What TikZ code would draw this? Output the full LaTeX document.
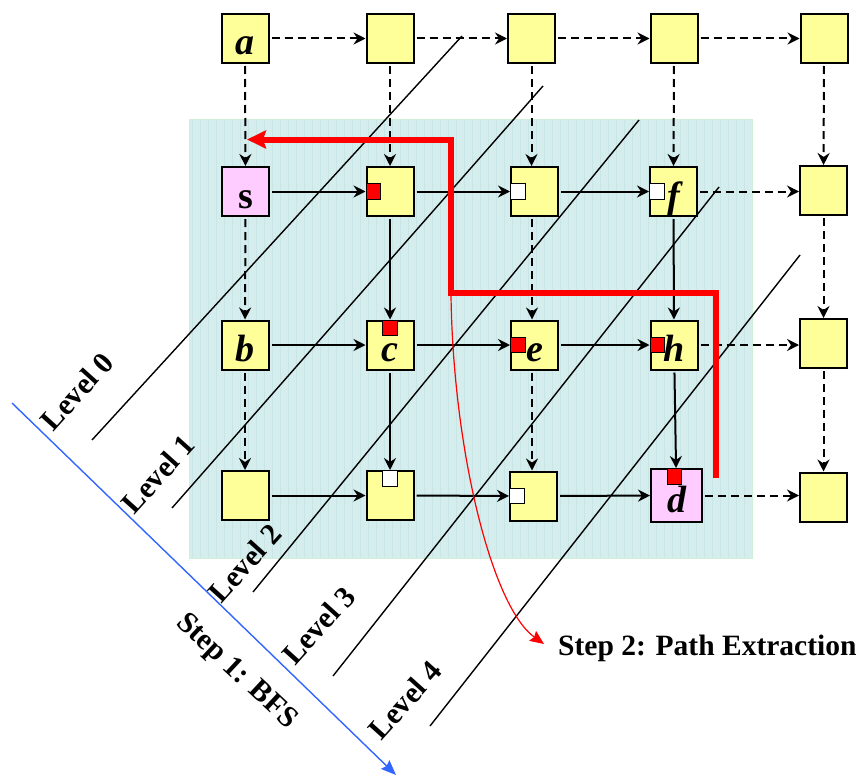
\documentclass[tikz,border=0pt]{standalone}
\usepackage{fontspec}
\setmainfont{Liberation Serif}
\usetikzlibrary{arrows.meta}
\definecolor{nodeyellow}{RGB}{255,255,153}
\definecolor{nodepink}{RGB}{255,204,255}
\definecolor{bgcol}{RGB}{214,237,237}
\definecolor{gridcol}{RGB}{200,230,231}
\definecolor{bgborder}{RGB}{205,240,215}
\definecolor{bfsblue}{RGB}{51,102,255}
\begin{document}
\begin{tikzpicture}[x=1pt,y=-1pt,
  box/.style={draw=black, line width=2pt, fill=nodeyellow, minimum width=47pt, minimum height=49pt,
    inner sep=0pt, text height=33pt, text depth=0pt,
    font=\fontsize{38}{38}\selectfont\bfseries\itshape},
  pinkbox/.style={box, fill=nodepink},
  bigbox/.style={pinkbox, minimum width=51pt, minimum height=53pt},
  mk/.style={draw=black, line width=1.3pt, minimum width=14.5pt, minimum height=15.5pt, inner sep=0pt},
  redmk/.style={mk, fill=red},
  whitemk/.style={mk, fill=white},
  edge/.style={draw=black, line width=2pt, -{Stealth[length=12pt,width=12pt,inset=4pt]}, shorten <=2pt},
  dedge/.style={edge, dash pattern=on 8pt off 5pt},
  diag/.style={draw=black, line width=1.4pt},
  lvl/.style={font=\fontsize{30}{30}\selectfont\bfseries, inner sep=0pt},
]
\useasboundingbox (0,0) rectangle (861,776);

% background panel
\fill[bgcol] (189,119) rectangle (752,558);
\begin{scope}
\clip (189,119) rectangle (752,558);
\draw[gridcol, line width=0.7pt, step=8] (184,112) grid (760,560);
\end{scope}
\draw[bgborder, line width=1pt] (189,119) rectangle (752,558);

% level separator lines
\draw[diag] (462,36) -- (92,440);
\draw[diag] (543,86) -- (172,508);
\draw[diag] (639,120) -- (253,592);
\draw[diag] (719,187) -- (333,676);
\draw[diag] (800,255) -- (430,726);

% nodes
\node[box] (a)  at (245,38.5) {a};
\node[box] (t2) at (390,38.5) {};
\node[box] (t3) at (531.5,38.5) {};
\node[box] (t4) at (674,38.5) {};
\node[box] (t5) at (824,38.5) {};

\node[pinkbox, font=\fontsize{38}{38}\selectfont\bfseries\upshape] (s) at (245.5,191.5) {s};
\node[box] (r1c2) at (390,191.5) {};
\node[box] (r1c3) at (534.5,191.5) {};
\node[box] (f)    at (673.5,191.5) {f};
\node[box] (r1c5) at (823.5,190.5) {};

\node[box] (b)    at (245,345) {b};
\node[box] (c)    at (390,345) {c};
\node[box] (e)    at (534.5,345) {e};
\node[box] (h)    at (674,345) {h};
\node[box] (r2c5) at (823.5,343.5) {};

\node[box] (r3c1) at (245,495.5) {};
\node[box] (r3c2) at (390,495.5) {};
\node[box] (r3c3) at (533.5,496) {};
\node[bigbox] (d) at (676.5,495.5) {d};
\node[box] (r3c5) at (823.5,497) {};

% markers
\node[redmk, anchor=west] at (r1c2.west) {};
\node[whitemk, anchor=west] at (r1c3.west) {};
\node[whitemk, anchor=west] at (f.west) {};
\node[redmk, anchor=north] at (c.north) {};
\node[redmk, anchor=west] at (e.west) {};
\node[redmk, anchor=west] at (h.west) {};
\node[whitemk, anchor=north] at (r3c2.north) {};
\node[whitemk, anchor=west] at (r3c3.west) {};
\node[redmk, anchor=north, xshift=-2pt] at (d.north) {};

% horizontal edges
\draw[dedge] (a) -- (t2);
\draw[dedge] (t2) -- (t3);
\draw[dedge] (t3) -- (t4);
\draw[dedge] (t4) -- (t5);
\draw[edge] (s) -- (r1c2);
\draw[edge] (r1c2) -- (r1c3);
\draw[edge] (r1c3) -- (f);
\draw[dedge] (f) -- (f -| r1c5.west);
\draw[edge] (b) -- (c);
\draw[edge] (c) -- (e);
\draw[edge] (e) -- (h);
\draw[dedge] (h) -- (h -| r2c5.west);
\draw[edge] (r3c1) -- (r3c2);
\draw[edge] (r3c2) -- (r3c3);
\draw[edge] (r3c3) -- (d);
\draw[dedge] (d) -- (d -| r3c5.west);

% vertical edges
\draw[dedge] (a) -- (s);
\draw[dedge] (t2) -- (r1c2);
\draw[dedge] (t3.south) -- (t3.south |- r1c3.north);
\draw[dedge] (t4) -- (f);
\draw[dedge] (t5) -- (r1c5);
\draw[dedge] (s) -- (b);
\draw[edge] (r1c2) -- (c);
\draw[dedge] ([xshift=-2.5pt]r1c3.south) -- ([xshift=-2.5pt]e.north);
\draw[edge] (f) -- (h);
\draw[dedge] (r1c5) -- (r2c5);
\draw[dedge] (b) -- (r3c1);
\draw[edge] (c) -- (r3c2);
\draw[dedge] ([xshift=-2.5pt]e.south) -- ([xshift=-2.5pt]e.south |- r3c3.north);
\draw[edge] (h) -- (d);
\draw[dedge] (r2c5) -- (r3c5);

% red extraction path
\coordinate (p0) at (715.5,478);
\coordinate (p1) at (715.5,293);
\coordinate (p2) at (451,293);
\coordinate (p3) at (451,139.5);
\coordinate (p4) at (247,139.5);
\draw[red, line width=6pt, line join=miter, -{Stealth[length=19pt,width=18pt,inset=3pt]}]
  (p0) -- (p1) -- (p2) -- (p3) -- (p4);

% step 2 label and curve
\node[font=\fontsize{29.5}{30}\selectfont\bfseries, anchor=base west, inner sep=0pt] (step2) at (558,655) {Step 2: Path Extraction};
\coordinate (cstart) at (451,295);
\coordinate (ctip) at (544,644);
\draw[red, line width=1.2pt, -{Stealth[length=14pt,width=12pt,inset=2pt]}]
  (cstart) .. controls (453,450) and (492,607) .. (ctip);

% BFS direction
\coordinate (bs) at (12,403);
\coordinate (be) at (396,775);
\draw[bfsblue, line width=1.4pt, -{Stealth[length=15pt,width=12pt,inset=2pt]}] (bs) -- (be);

% labels
\node[lvl, rotate=48] (l0) at (77,391.5) {Level 0};
\node[lvl, rotate=48] (l1) at (158,474) {Level 1};
\node[lvl, rotate=48] (l2) at (245,563) {Level 2};
\node[lvl, rotate=48] (l3) at (318.5,625.5) {Level 3};
\node[lvl, rotate=48] (l4) at (405,700) {Level 4};
\node[lvl, rotate=-43] (bfs) at (236,672) {Step 1: BFS};
\end{tikzpicture}
\end{document}
